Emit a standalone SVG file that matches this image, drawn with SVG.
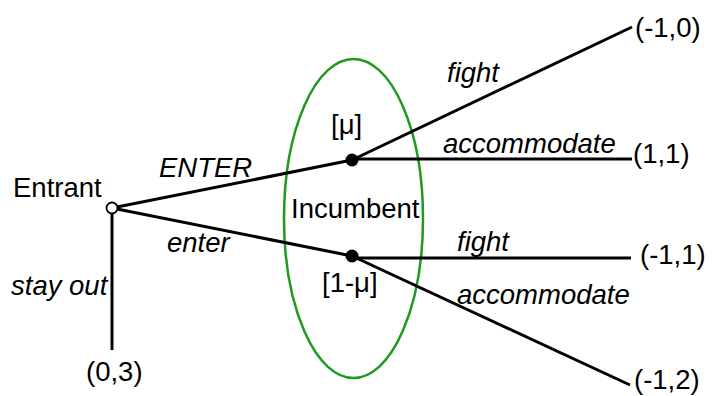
<svg xmlns="http://www.w3.org/2000/svg" width="713" height="396" viewBox="0 0 713 396">
<style>
text{font-family:"Liberation Sans",Arial,sans-serif;font-size:27.5px;fill:#000}
.i{font-style:italic}
.e{stroke:#000;stroke-width:3;fill:none}
</style>
<rect width="713" height="396" fill="#fff"/>
<ellipse id="infoset" cx="353.5" cy="218.5" rx="69.5" ry="159.5" fill="none" stroke="#1f9a1f" stroke-width="2.5"/>
<g id="connectors">
<line class="e" x1="112" y1="208" x2="352" y2="160"/>
<line class="e" x1="112" y1="208" x2="352" y2="256"/>
<line class="e" x1="112" y1="208" x2="112" y2="350"/>
<line class="e" x1="352" y1="160" x2="632" y2="27"/>
<line class="e" x1="352" y1="159" x2="632" y2="159"/>
<line class="e" x1="352" y1="258" x2="631" y2="258"/>
<line class="e" x1="352" y1="256" x2="630" y2="385"/>
</g>
<g id="labels">
<text class="i" x="159" y="177">ENTER</text>
<text class="i" x="167" y="252">enter</text>
<text class="i" x="11" y="295">stay out</text>
<text class="i" x="447" y="82">fight</text>
<text class="i" x="443" y="153">accommodate</text>
<text class="i" x="457" y="251">fight</text>
<text class="i" x="457" y="304">accommodate</text>
</g>
<g id="entrant">
<circle cx="112" cy="208" r="5.5" fill="#fff" stroke="#000" stroke-width="1.8"/>
<text x="13" y="197">Entrant</text>
</g>
<g id="incumbent">
<circle cx="352" cy="160" r="6.5" fill="#000"/>
<circle cx="352" cy="256" r="6.5" fill="#000"/>
<text x="291" y="218">Incumbent</text>
<text x="331" y="134">[μ]</text>
<text x="322" y="292">[1-μ]</text>
</g>
<g id="payoffs">
<text x="86" y="381">(0,3)</text>
<text x="635" y="37">(-1,0)</text>
<text x="633" y="163">(1,1)</text>
<text x="640" y="264">(-1,1)</text>
<text x="634" y="389">(-1,2)</text>
</g>
</svg>
